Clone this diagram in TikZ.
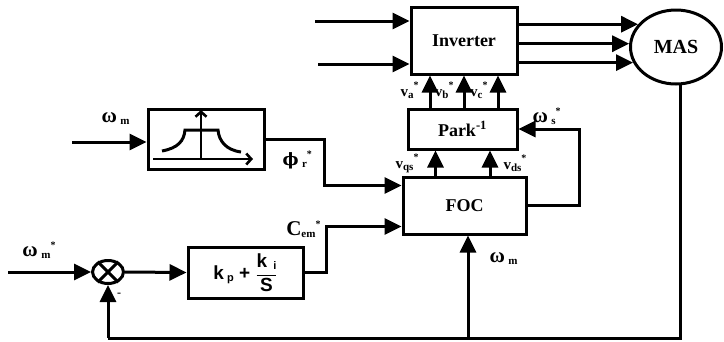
\documentclass[tikz,border=0pt]{standalone}
\usepackage{amsmath}
\usepackage{fontspec}
\setmainfont{Liberation Serif}
\setsansfont{Liberation Sans}
\newfontfamily\dvserif{DejaVu Serif}
\usetikzlibrary{shapes.geometric,arrows.meta,positioning,calc}
\newcommand{\rs}{\raisebox{8pt}{\fontsize{10}{10}\selectfont *}}
\newcommand{\lo}[1]{\raisebox{-2pt}{\fontsize{11}{11}\selectfont #1}}

\begin{document}
\begin{tikzpicture}[x=1pt, y=-1pt, line width=3pt,
  blk/.style={draw, rectangle, inner sep=0pt, font=\bfseries\fontsize{18}{20}\selectfont},
  arr/.style={-{Triangle[length=17pt,width=16pt]}},
  barb/.style={-{Straight Barb[length=5pt,width=11pt]}, line width=2.6pt},
  lab/.style={inner sep=0pt, font=\bfseries\fontsize{15}{17}\selectfont},
  wlab/.style={inner sep=0pt, font=\bfseries\fontsize{21}{22}\selectfont}]
\useasboundingbox (0,0) rectangle (724,341);

% blocks
\node[blk, minimum width=106, minimum height=67] (inv) at (464,40.5) {Inverter};
\node[draw, ellipse, inner sep=0pt, minimum width=91, minimum height=74,
      font=\bfseries\fontsize{20}{22}\selectfont] (mas) at (676,47) {MAS};
\node[blk, minimum width=109, minimum height=40] (park) at (462.5,129) {Park\textsuperscript{-1}};
\node[blk, minimum width=123, minimum height=57] (foc) at (464.5,205.5) {FOC};
\node[draw, rectangle, minimum width=116, minimum height=60] (filt) at (206,139) {};
\node[draw, rectangle, minimum width=115, minimum height=51, inner sep=0pt,
      font=\sffamily\bfseries\fontsize{19}{20}\selectfont] (pi) at (245.5,272.5)
  {k\,\lo{p} + $\dfrac{\mbox{k\hspace{6pt}\lo{i}}}{\mbox{S}}$};
\node[draw, ellipse, inner sep=0pt, minimum width=31, minimum height=23] (sum) at (108,272) {};
\draw (sum.45) -- (sum.225) (sum.135) -- (sum.-45);

% filter symbol
\draw[barb] (153,159) -- (253,159);
\draw[barb] (201,159) -- (201,110);
\draw (162,151) .. controls (178,148) and (184,141) .. (185,130) -- (218,130)
      .. controls (219,141) and (226,150) .. (241,152);

% free ends
\coordinate (u1) at (315,21);
\coordinate (u2) at (318,64);
\coordinate (win) at (72,142);
\coordinate (wref) at (8,272);
\coordinate (bot) at (0,338);
\coordinate (fin1) at ([yshift=20pt]foc.west);
\coordinate (fin2) at ([yshift=-21pt]foc.west);

% inverter
\draw[arr] (u1) -- (u1 -| inv.west);
\draw[arr] (u2) -- (u2 -| inv.west);
\foreach \a in {149,176,200}
  \draw[arr] (inv.east |- mas.\a) -- (mas.\a);
\foreach \dx/\n in {-34/a,0/b,34/c} {
  \coordinate (v\n) at ([xshift=\dx pt]inv.south);
  \draw[arr] (v\n |- park.north) -- (v\n);
}
\coordinate (vq) at ([xshift=-29pt]foc.north);
\coordinate (vd) at ([xshift=25.5pt]foc.north);
\draw[arr] (vq) -- (vq |- park.south);
\draw[arr] (vd) -- (vd |- park.south);
\draw[arr] (foc.east) -- ++(52,0) |- (park.east);

% speed loop
\draw[arr] (win) -- (win -| filt.west);
\draw[arr] (filt.east) -- ++(59,0) |- (fin1);
\draw[arr] (wref) -- (sum.west);
\draw[arr] (sum.east) -- (pi.west);
\draw[arr] (pi.east) -- ++(22,0) |- (fin2);
\draw (mas.-84) -- (mas.-84 |- bot) -- (sum.south |- bot);
\draw[arr] (sum.south |- bot) -- (sum.south);
\draw[arr] ([xshift=3.5pt]foc.south |- bot) -- ([xshift=3.5pt]foc.south);

% labels
\node[lab, anchor=east] (lva) at (420,90) {v\lo{a}\rs};
\node[lab, anchor=east] (lvb) at (455,90) {v\lo{b}\rs};
\node[lab, anchor=east] (lvc) at (489,90) {v\lo{c}\rs};
\node[lab, anchor=east] (lvqs) at (420,163) {v\lo{qs}\rs};
\node[lab, anchor=west] (lvds) at (502,163) {v\lo{ds}\rs};
\node[wlab, anchor=west] (lws) at (531,116) {ω\,\lo{s}\rs};
\node[wlab, anchor=west] (lphi) at (281,160) {{\dvserif\fontsize{17}{18}\selectfont ϕ}\,\lo{r}\rs};
\node[wlab, anchor=east] (lcem) at (322,229) {C\lo{em}\rs};
\node[wlab, anchor=west] (lwref) at (21,250) {ω\,\lo{m}\rs};
\node[wlab, anchor=west] (lwf) at (100,119) {ω\,\lo{m}};
\node[wlab, anchor=west] (lwfoc) at (488,259) {ω\,\lo{m}};
\node[inner sep=0pt, font=\bfseries\fontsize{12}{12}\selectfont] (minus) at (119,295) {-};
\end{tikzpicture}
\end{document}
